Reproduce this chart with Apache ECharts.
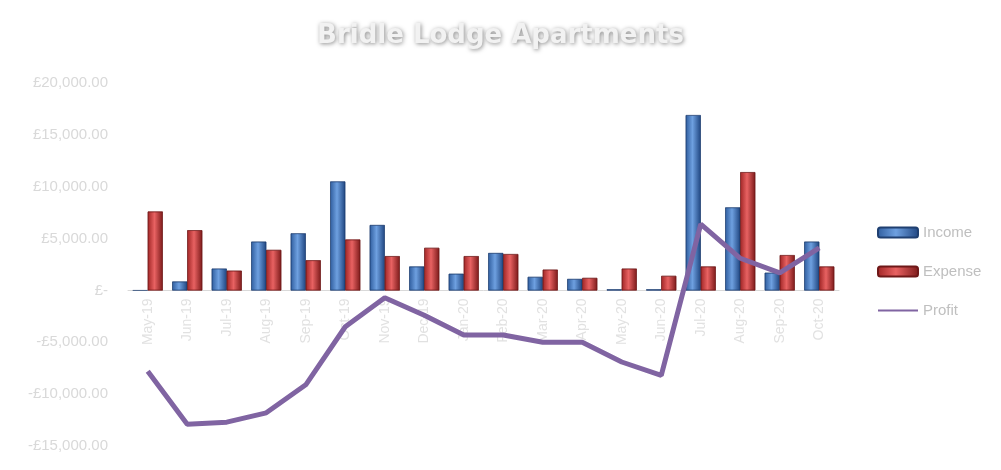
<!DOCTYPE html>
<html><head><meta charset="utf-8">
<script src="https://cdn.jsdelivr.net/npm/echarts@6/dist/echarts.min.js"></script>
<style>html,body{margin:0;padding:0;background:#fff}#c{width:1001px;height:470px}</style>
</head><body><div id="c"></div>
<script>
const categories=['May-19','Jun-19','Jul-19','Aug-19','Sep-19','Oct-19','Nov-19','Dec-19','Jan-20','Feb-20','Mar-20','Apr-20','May-20','Jun-20','Jul-20','Aug-20','Sep-20','Oct-20'];
const income=[0,850,2100,4700,5500,10500,6300,2300,1600,3600,1300,1100,100,100,16900,8000,1700,4700];
const expense=[7600,5800,1900,3900,2900,4900,3300,4100,3300,3500,2000,1200,2100,1400,2300,11400,3400,2300];
const profit=[-7800,-12900,-12700,-11800,-9100,-3500,-700,-2400,-4300,-4300,-5000,-5000,-6900,-8200,6400,3100,1700,4100];
const txt='#d9d9d9';
const g=(a,b,c)=>new echarts.graphic.LinearGradient(0,0,1,0,[{offset:0,color:a},{offset:0.45,color:b},{offset:1,color:c}]);
const fmt=v=>v===0?'£-':(v<0?'-':'')+'£'+Math.abs(v).toLocaleString('en-GB',{minimumFractionDigits:2});
const chart=echarts.init(document.getElementById('c'));
chart.setOption({
 title:{text:'Bridle Lodge Apartments',left:'center',top:18,textStyle:{color:'#f2f2f2',fontSize:26,fontWeight:'bold',fontFamily:'Verdana, DejaVu Sans',textShadowColor:'rgba(0,0,0,0.45)',textShadowBlur:4,textShadowOffsetX:1,textShadowOffsetY:1}},
 legend:{orient:'vertical',left:872,top:220,itemGap:24,itemWidth:40,itemHeight:10,textStyle:{color:'#bfbfbf',fontSize:15,fontFamily:'Liberation Sans'},
  data:['Income','Expense',{name:'Profit',icon:'path://M0,4L40,4L40,6L0,6Z'}]},
 grid:{left:128,right:162,top:83,bottom:24,outerBoundsMode:'none',containLabel:false},
 xAxis:{type:'category',data:categories,axisLine:{onZero:true,lineStyle:{color:'#d9d9d9'}},axisTick:{show:false},axisLabel:{show:false}},
 yAxis:{type:'value',min:-15000,max:20000,interval:5000,splitLine:{show:false},axisLine:{show:false},
  axisLabel:{formatter:fmt,color:txt,fontSize:15,fontFamily:'Liberation Sans',margin:20}},
 series:[
  {name:'Income',type:'bar',data:income,barGap:'0%',barCategoryGap:'24%',itemStyle:{color:g('#2f5d9e','#6ea0e0','#1f4580'),borderColor:'#1f3f70',borderWidth:0.5}},
  {name:'Expense',type:'bar',data:expense,itemStyle:{color:g('#a02525','#e86262','#7c1a1a'),borderColor:'#6e1818',borderWidth:0.5}},
  {name:'Profit',type:'line',data:profit,symbol:'none',z:5,lineStyle:{color:'#8064a2',width:5},itemStyle:{color:'#8064a2'}},
  {name:'labels',type:'scatter',data:categories.map(c=>[c,0]),symbolSize:0,silent:true,z:1,
   label:{show:true,formatter:p=>p.value[0],rotate:90,position:'bottom',distance:8,align:'right',verticalAlign:'middle',color:txt,fontSize:14,fontFamily:'Liberation Sans'}}
 ]
});
</script></body></html>
